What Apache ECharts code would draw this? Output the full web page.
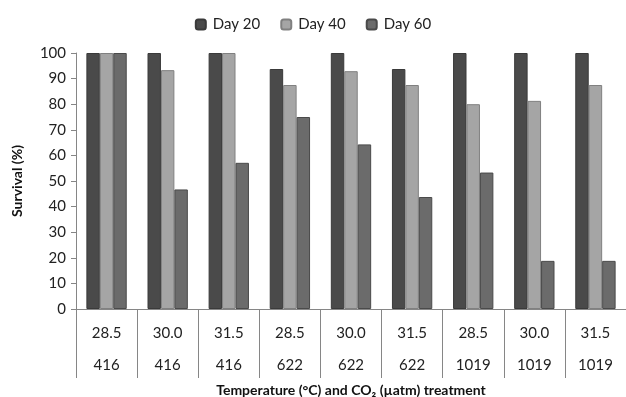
<!DOCTYPE html>
<html><head><meta charset="utf-8">
<script src="https://cdn.jsdelivr.net/npm/echarts@6/dist/echarts.min.js"></script>
<style>html,body{margin:0;padding:0;background:#fff}#c{width:626px;height:397px}</style>
</head><body><div id="c"></div>
<script>
const temps = ["28.5","30.0","31.5","28.5","30.0","31.5","28.5","30.0","31.5"];
const co2 = ["416","416","416","622","622","622","1019","1019","1019"];
const day20 = [100,100,100,93.75,100,93.75,100,100,100];
const day40 = [100,93.3,100,87.5,92.9,87.5,80,81.3,87.5];
const day60 = [100,46.7,57.1,75,64.3,43.75,53.3,18.8,18.8];
const yTicks = [0,10,20,30,40,50,60,70,80,90,100];

const categories = temps.map((t,i)=>t+"\n"+co2[i]);
const font = "Lato, 'Open Sans', sans-serif";
const chart = echarts.init(document.getElementById('c'));
function bar(name, data, color, border){
  return {name, type:'bar', data, barGap:'0%', barCategoryGap:'34%',
    itemStyle:{color, borderColor:border, borderWidth:1}};
}
chart.setOption({
  animation:false,
  textStyle:{fontFamily:font},
  legend:{top:12, left:'center', itemWidth:10, itemHeight:10, itemGap:20,
    textStyle:{fontSize:15, color:'#222', fontFamily:font, padding:[0,0,0,2]},
    data:['Day 20','Day 40','Day 60']},
  grid:{left:76, right:0, top:53, bottom:88, containLabel:false, outerBoundsMode:'none'},
  xAxis:{type:'category', data:categories,
    axisLine:{show:true, lineStyle:{color:'#868686', width:1}},
    axisTick:{show:true, interval:0, length:69, lineStyle:{color:'#868686', width:1}},
    axisLabel:{fontSize:15, color:'#222', lineHeight:32, margin:8, interval:0, fontFamily:font},
    name:'Temperature (°C) and CO₂ (µatm) treatment', nameLocation:'middle', nameGap:74,
    nameMoveOverlap:false,
    nameTextStyle:{fontSize:14, fontWeight:'bold', color:'#111', fontFamily:font}},
  yAxis:{type:'value', min:0, max:100, interval:10,
    axisLine:{show:true, lineStyle:{color:'#868686', width:1}},
    axisTick:{show:true, length:5, lineStyle:{color:'#868686', width:1}},
    splitLine:{show:false},
    axisLabel:{fontSize:15, color:'#222', margin:10, fontFamily:font,
      formatter:v=>yTicks.includes(v)?String(v):''},
    name:'Survival (%)', nameLocation:'middle', nameGap:52, nameMoveOverlap:false,
    nameTextStyle:{fontSize:14, fontWeight:'bold', color:'#111', fontFamily:font}},
  series:[
    bar('Day 20', day20, '#4a4a4a', '#3a3a3a'),
    bar('Day 40', day40, '#a5a5a5', '#808080'),
    bar('Day 60', day60, '#6b6b6b', '#4a4a4a')
  ]
});
</script></body></html>
